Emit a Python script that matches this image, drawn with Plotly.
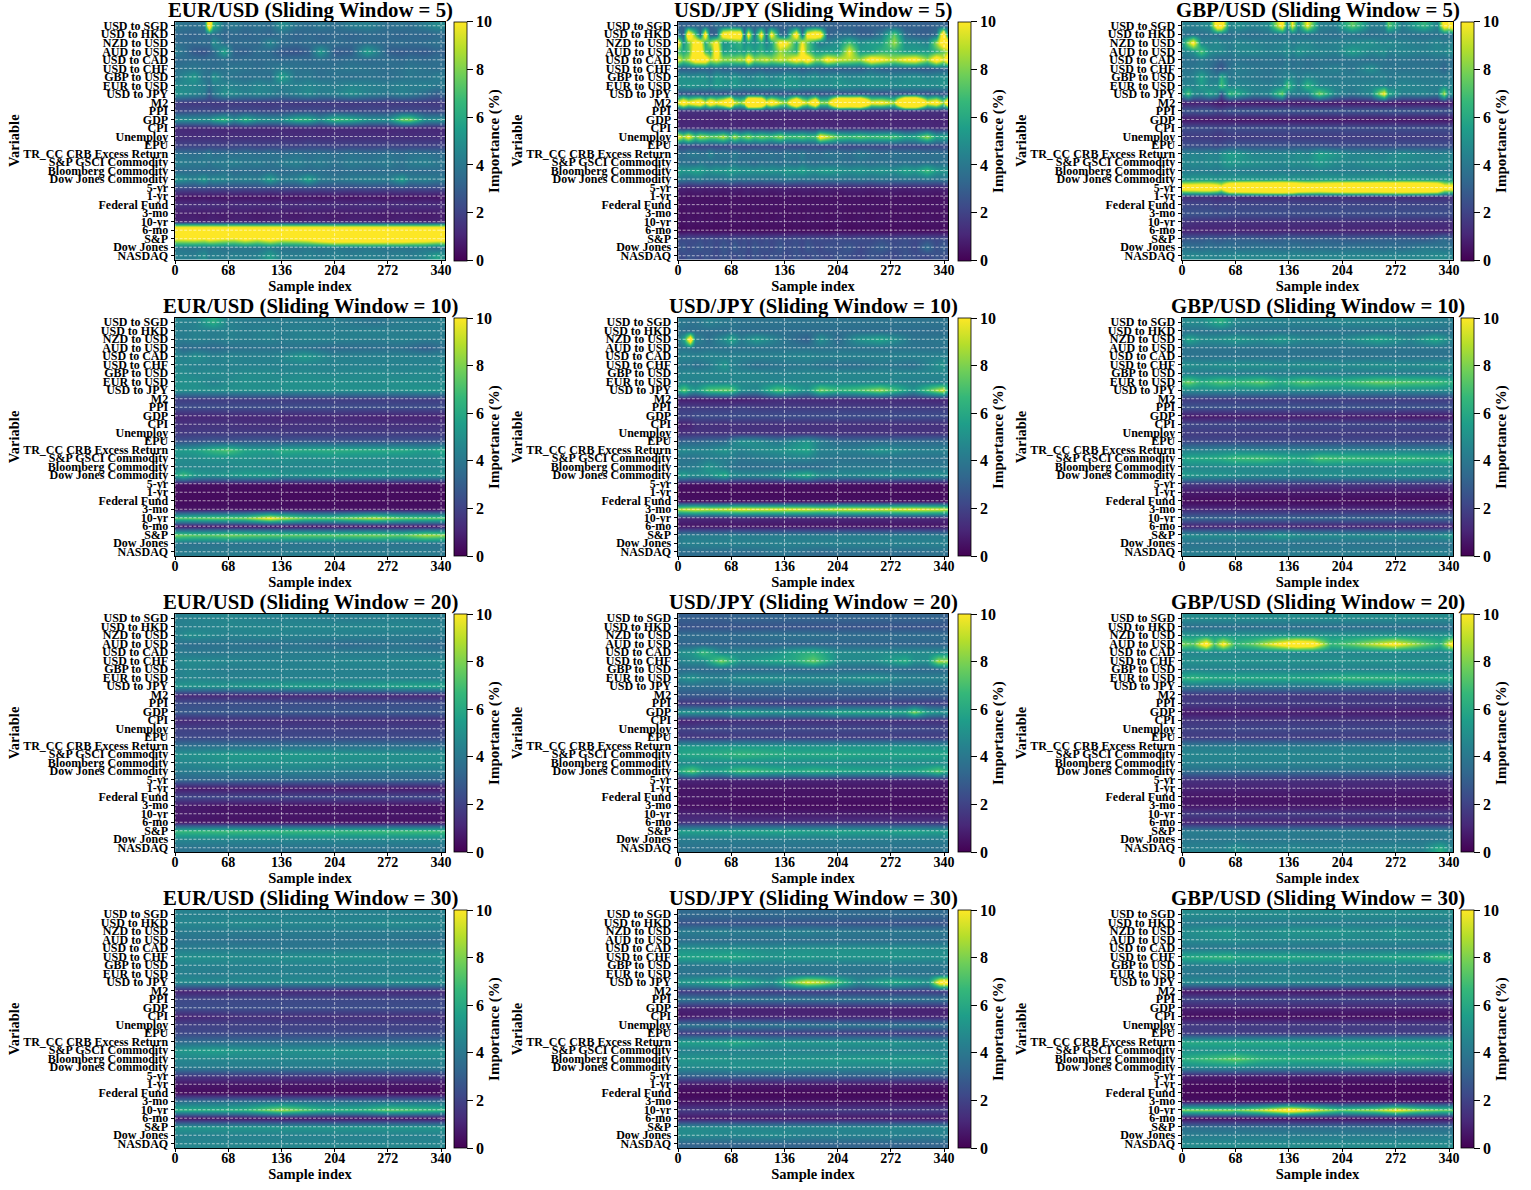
import numpy as np
import plotly.graph_objects as go

VARIABLES = ["USD to SGD","USD to HKD","NZD to USD","AUD to USD","USD to CAD","USD to CHF","GBP to USD","EUR to USD","USD to JPY","M2","PPI","GDP","CPI","Unemploy","EPU","TR_CC CRB Excess Return","S&P GSCI Commodity","Bloomberg Commodity","Dow Jones Commodity","5-yr","1-yr","Federal Fund","3-mo","10-yr","6-mo","S&P","Dow Jones","NASDAQ"]
PAIRS = ["EUR/USD","USD/JPY","GBP/USD"]
WINDOWS = [5,10,20,30]
X_TICKS = [0,68,136,204,272,340]
CB_TICKS = [0,2,4,6,8,10]

# Sample positions and importance readings (tenths of a percent); rows follow VARIABLES
X_E5 = [0,24,37,43,49,62,75,90,105,122,136,155,170,185,204,225,245,272,290,300,320,335,344]
Z_E5 = [
[40,36,40,130,64,38,40,36,38,36,50,38,36,40,36,42,44,36,38,36,42,48,46],
[34,32,34,34,36,32,34,32,34,32,36,32,34,32,34,32,34,34,32,34,32,34,34],
[36,34,36,34,50,36,34,36,34,46,36,34,36,34,36,34,36,34,36,34,36,38,36],
[44,28,26,30,34,58,32,30,36,34,28,26,30,54,28,30,56,30,28,30,28,32,30],
[34,36,34,36,34,36,34,36,34,36,34,36,34,36,34,36,34,36,34,36,34,36,34],
[38,40,38,36,36,38,40,38,36,38,42,38,38,36,38,40,38,36,38,40,38,36,38],
[40,54,38,38,52,40,38,36,38,36,58,38,40,36,38,36,38,36,38,40,38,42,40],
[48,46,44,36,42,46,44,42,46,44,42,44,46,44,42,46,44,42,44,42,44,40,42],
[52,46,42,30,40,50,48,44,46,44,40,44,48,42,44,50,44,40,44,42,36,30,34],
[18,17,17,18,17,17,17,18,17,17,18,17,17,18,17,17,18,17,17,18,17,17,18],
[22,22,23,22,21,22,23,22,22,21,22,22,23,22,22,21,22,22,23,22,22,21,22],
[50,50,50,50,58,66,50,64,52,50,50,64,64,50,68,64,52,50,78,80,50,50,50],
[12,11,12,11,12,11,11,12,11,11,12,11,12,11,11,12,11,11,12,11,12,11,12],
[14,13,14,13,14,13,14,13,14,13,14,13,14,13,14,13,14,13,14,13,14,13,14],
[20,21,20,21,21,20,21,22,20,21,21,20,22,21,20,21,20,21,20,21,20,21,20],
[38,36,38,42,36,38,36,38,36,38,36,38,36,38,36,38,36,38,36,38,38,36,36],
[44,40,42,38,42,42,44,40,42,38,42,44,40,42,38,42,40,42,38,42,44,40,40],
[34,36,34,36,34,38,34,36,34,36,34,36,34,36,34,36,34,36,34,36,34,36,34],
[52,44,54,44,48,46,42,44,42,56,42,44,58,42,40,42,44,42,56,42,44,40,42],
[24,23,24,23,24,23,24,23,24,23,24,23,24,23,24,23,24,23,24,23,24,23,24],
[6,5,6,5,6,5,6,5,6,5,6,5,6,5,6,5,6,5,6,5,6,5,6],
[14,13,14,13,14,13,13,14,13,13,14,13,14,13,14,13,14,13,14,13,14,13,14],
[8,8,7,8,8,7,8,8,7,8,8,7,8,8,7,8,8,7,8,8,7,8,8],
[10,10,9,10,10,9,10,10,9,10,10,9,10,10,9,10,10,9,10,10,9,10,10],
[165,165,165,165,165,165,165,165,165,165,165,165,165,165,165,165,165,165,165,165,165,165,165],
[100,105,100,108,105,100,98,108,100,112,102,105,110,125,135,135,135,135,135,130,125,120,120],
[40,38,40,38,40,38,38,40,38,42,38,38,40,38,40,38,40,38,38,38,40,34,40],
[44,42,50,42,44,42,44,42,44,56,44,42,44,42,44,42,44,42,44,42,46,58,50],
]

X_J5 = [0,6,13,22,28,34,41,49,57,66,72,79,84,89,97,106,112,119,130,138,151,158,165,175,181,190,204,218,232,246,260,276,290,303,318,330,338,344]
Z_J5 = [
[30,32,30,32,32,30,30,36,32,34,32,30,32,30,32,30,32,30,30,32,30,32,30,32,30,32,30,32,30,32,30,32,30,32,30,32,32,30],
[40,30,130,75,35,120,30,30,120,130,130,130,35,110,35,110,35,110,35,35,120,35,110,130,120,30,35,35,30,30,40,75,35,30,30,35,130,60],
[110,50,75,110,110,60,85,110,50,55,60,65,50,55,50,60,45,55,110,105,60,100,75,50,40,45,50,70,50,55,55,85,50,50,45,85,120,120],
[70,60,70,120,120,70,60,120,55,60,55,60,55,65,55,65,55,60,85,75,65,110,75,55,55,55,55,100,55,55,65,65,55,55,55,65,75,85],
[100,80,90,120,120,120,90,100,85,85,85,90,85,120,85,90,95,85,95,90,110,100,120,85,85,110,95,90,85,115,105,90,105,110,85,120,95,120],
[30,28,30,28,30,32,30,34,30,32,30,28,30,30,28,30,28,30,28,30,30,28,30,32,30,30,28,30,28,34,30,30,30,28,28,30,30,30],
[50,52,48,50,52,50,44,54,50,48,54,48,46,44,48,52,48,46,50,52,50,46,48,52,46,48,50,46,48,50,48,46,48,50,46,48,50,50],
[52,50,54,52,50,52,48,54,52,50,54,50,48,50,48,50,52,48,50,52,54,48,50,48,50,48,52,50,48,50,50,48,50,48,50,48,52,50],
[24,26,24,26,24,26,24,26,24,26,24,26,24,26,24,26,24,26,24,26,24,26,24,26,24,26,24,26,24,26,24,26,24,26,24,26,24,26],
[100,130,105,120,130,95,130,105,125,170,100,85,100,185,190,175,105,130,95,85,170,110,95,150,85,85,190,180,190,105,110,90,210,210,105,125,85,130],
[14,15,14,15,14,15,14,15,14,15,14,15,14,15,14,15,14,15,14,15,14,15,14,15,14,15,14,15,14,15,14,15,14,15,14,15,14,15],
[11,10,11,10,11,10,11,10,11,10,11,10,11,10,11,10,11,10,11,10,11,10,11,10,11,10,11,10,11,10,11,10,11,10,11,10,11,10],
[12,12,11,12,12,11,12,12,11,12,12,11,12,12,11,12,12,11,12,12,11,12,12,11,12,12,11,12,12,11,12,12,11,12,12,11,12,12],
[105,85,105,75,90,85,78,80,90,70,90,72,78,85,72,80,75,72,85,72,72,76,70,72,110,95,75,70,75,70,72,72,60,62,85,58,62,60],
[22,22,23,22,22,23,22,22,23,22,22,23,22,22,23,24,24,22,22,23,22,22,24,24,22,22,23,22,22,23,22,22,23,22,22,23,22,22],
[38,36,40,42,38,38,46,38,40,38,42,38,36,38,40,36,38,38,36,40,38,42,36,38,36,40,38,36,42,38,36,38,36,38,36,38,36,38],
[36,38,36,34,40,38,36,38,36,38,40,36,38,36,34,38,36,38,36,38,36,40,38,36,38,36,38,36,38,36,38,36,38,36,38,36,38,36],
[58,52,54,58,56,52,50,54,52,56,54,52,50,52,50,52,50,52,50,54,52,58,52,50,54,56,52,50,52,50,52,50,58,54,68,54,52,52],
[40,38,36,38,40,36,38,36,38,40,38,36,38,36,38,36,38,36,38,40,38,36,38,36,38,36,38,36,38,36,38,36,38,36,38,36,38,38],
[10,10,9,10,10,9,10,10,9,10,10,9,10,10,9,10,10,9,10,10,9,10,10,9,10,10,9,10,10,9,10,10,9,10,10,9,10,10],
[5,5,4,5,5,4,5,5,4,5,5,4,5,5,4,5,5,4,5,5,4,5,5,4,5,5,4,5,5,4,5,5,4,5,5,4,5,5],
[5,5,6,5,5,6,5,5,6,5,5,6,5,5,6,5,5,6,5,5,6,5,5,6,5,5,6,5,5,6,5,5,6,5,5,6,5,5],
[5,4,5,4,5,4,5,4,5,4,5,4,5,4,5,4,5,4,5,4,5,4,5,4,5,4,5,4,5,4,5,4,5,4,5,4,5,4],
[6,5,6,5,6,5,6,5,6,5,6,5,6,5,6,5,6,5,6,5,6,5,6,5,6,5,6,5,6,5,6,5,6,5,6,5,6,5],
[3,3,4,3,3,4,3,3,4,3,3,4,3,3,4,3,3,4,3,3,4,3,3,4,3,3,4,3,3,4,3,3,4,3,3,4,3,3],
[24,22,24,22,24,22,24,22,24,22,24,22,24,22,24,22,24,22,24,22,24,22,24,22,24,22,24,22,24,22,24,22,24,22,24,22,24,22],
[24,28,22,26,28,24,26,22,28,24,30,24,26,22,28,24,26,22,28,24,26,22,28,24,22,26,24,28,22,26,30,24,26,22,36,24,30,26],
[24,22,26,24,22,26,24,22,26,24,22,26,24,22,26,24,22,26,24,22,26,24,22,26,24,22,26,24,22,26,24,22,26,24,22,26,24,24],
]

X_G5 = [0,8,14,24,34,45,50,60,70,90,110,127,134,140,148,159,175,195,216,240,257,262,280,308,325,333,338,344]
Z_G5 = [
[44,44,42,46,48,120,120,46,50,44,48,110,46,100,48,100,44,42,75,42,44,75,42,65,44,115,105,120],
[38,36,38,36,38,36,34,36,38,36,38,36,38,36,38,36,38,36,38,36,38,36,38,36,38,36,38,36],
[50,85,110,46,44,48,44,42,46,44,42,44,46,42,44,46,42,44,46,50,44,48,44,42,46,42,44,44],
[44,46,50,72,50,46,48,42,46,48,44,46,50,46,52,48,46,44,56,46,50,44,46,44,46,46,50,48],
[36,38,36,40,38,34,32,36,38,36,38,36,40,36,38,36,38,36,38,36,38,36,38,36,38,36,38,36],
[40,38,40,42,38,30,26,38,42,40,38,40,42,38,40,38,40,44,38,50,38,40,38,40,38,32,38,38],
[40,42,44,58,44,40,62,40,42,40,38,42,44,46,40,46,42,40,42,40,44,40,42,40,42,40,42,40],
[44,46,44,54,46,48,70,44,46,44,42,46,72,56,44,66,46,44,42,46,44,42,46,44,42,46,44,46],
[50,72,50,46,58,50,28,68,62,44,46,78,42,44,44,44,80,46,40,48,105,62,44,46,42,88,50,50],
[8,9,8,10,9,6,5,7,6,7,6,7,6,7,6,7,6,7,6,7,6,7,6,7,6,7,6,8],
[26,28,26,28,28,24,24,28,28,28,28,28,28,28,28,28,28,28,28,28,28,28,28,28,28,26,28,26],
[6,6,6,6,6,7,7,6,6,6,6,6,6,6,6,6,6,6,6,6,6,7,6,6,6,6,6,6],
[24,24,24,24,24,22,22,24,24,24,24,24,24,24,24,24,24,24,24,24,24,24,24,24,24,24,24,24],
[18,18,18,18,18,16,16,18,18,18,18,18,18,18,18,18,18,18,18,18,18,18,18,18,18,18,18,18],
[24,24,24,24,24,22,24,26,26,26,26,26,26,26,26,26,26,24,24,24,24,24,24,24,24,24,24,24],
[44,44,46,44,46,44,50,56,54,46,46,46,48,46,50,46,58,52,46,46,44,46,50,46,44,46,46,44],
[48,46,48,46,48,46,50,54,52,50,48,46,48,50,48,50,54,48,46,50,48,50,48,46,48,48,46,46],
[42,42,42,42,42,40,42,44,42,42,42,42,40,42,42,42,44,42,42,42,44,42,44,42,42,42,40,42],
[54,52,54,54,54,52,54,52,54,54,52,54,54,52,54,52,54,54,52,54,54,52,54,54,52,54,52,54],
[125,130,130,135,135,125,110,170,175,185,195,200,195,195,170,165,160,170,180,175,185,185,190,180,170,120,120,120],
[14,14,14,14,14,12,12,13,13,13,13,13,13,13,13,13,13,13,13,13,13,13,13,13,13,13,13,13],
[22,22,22,22,22,20,22,22,22,22,22,22,22,22,22,22,22,22,22,22,22,22,22,22,22,22,22,22],
[26,26,26,26,26,24,26,24,24,24,24,24,24,24,24,24,24,24,24,24,24,24,24,24,24,24,24,24],
[16,16,14,14,14,14,14,14,14,14,14,14,14,14,14,14,14,14,14,14,14,14,14,14,14,14,14,14],
[10,10,10,10,10,10,10,10,10,10,10,10,10,10,10,10,10,10,10,10,10,10,10,10,10,10,10,12],
[26,28,28,28,30,28,28,30,30,30,28,30,32,30,30,30,30,30,28,30,30,30,30,28,32,36,32,30],
[38,38,36,36,38,36,38,38,36,38,38,36,36,38,38,36,38,36,38,38,36,38,36,42,40,38,40,38],
[46,46,48,46,46,44,46,46,48,46,46,46,46,46,46,46,46,46,46,46,46,46,46,46,48,48,46,46],
]

X_E10 = [0,10,25,48,68,90,122,136,165,200,255,290,320,344]
Z_E10 = [
[46,44,44,62,44,42,42,42,42,42,38,42,42,44],
[44,42,44,42,44,42,44,42,44,42,44,42,44,42],
[42,42,44,42,44,42,44,42,44,44,42,44,42,42],
[40,34,36,34,36,38,38,38,38,34,36,36,30,36],
[48,44,50,44,46,44,44,46,54,44,44,44,44,44],
[46,46,44,44,44,44,44,44,44,44,44,44,44,46],
[48,48,46,48,46,48,48,46,48,46,48,46,48,46],
[50,50,50,44,48,50,48,50,50,50,48,50,48,48],
[52,50,50,50,50,50,50,50,50,50,50,50,52,50],
[18,18,18,18,18,18,18,18,18,18,18,18,18,18],
[24,24,24,24,24,24,24,24,24,24,24,24,24,24],
[10,11,11,11,12,11,12,11,11,12,10,10,10,10],
[15,14,15,15,15,14,14,14,15,15,14,14,14,15],
[18,17,18,18,18,18,18,18,17,18,18,18,18,18],
[26,26,26,28,26,28,28,26,28,26,26,26,26,26],
[54,54,56,66,72,58,56,62,60,62,60,60,54,60],
[50,48,48,50,50,50,48,50,48,50,48,48,48,50],
[46,46,46,46,46,48,46,46,46,46,46,46,46,46],
[58,68,54,52,54,56,56,52,52,54,54,52,52,52],
[4,4,4,4,4,4,4,4,4,4,4,4,4,4],
[4,3,3,3,3,3,3,3,3,3,3,3,3,3],
[3,3,3,3,3,3,3,3,3,3,3,3,3,3],
[5,5,5,5,5,5,5,5,5,5,5,5,5,5],
[72,72,74,76,76,78,100,90,76,74,88,76,74,72],
[6,5,5,5,5,5,5,5,5,5,5,5,5,6],
[78,76,74,74,78,76,74,74,74,74,78,74,86,82],
[40,38,38,38,38,38,38,38,38,38,38,38,38,38],
[42,42,42,42,42,42,42,42,42,42,42,42,42,40],
]

X_J10 = [0,8,15,22,38,60,68,80,100,126,165,182,204,228,258,300,338,344]
Z_J10 = [
[40,40,38,38,44,40,40,38,38,38,38,38,38,38,38,38,38,38],
[38,36,36,36,36,36,38,36,36,36,36,36,36,36,36,36,36,36],
[40,60,125,46,36,50,60,42,54,42,30,50,34,50,58,38,40,40],
[38,38,38,36,38,38,38,38,38,38,38,38,38,38,38,38,38,38],
[44,46,44,44,46,44,44,44,44,44,46,44,44,44,44,44,44,44],
[42,38,40,36,40,52,44,40,36,38,40,38,36,36,40,36,52,40],
[44,46,46,46,46,46,46,46,46,44,46,46,46,46,46,46,46,46],
[46,46,44,44,46,46,46,46,46,46,46,46,46,46,46,44,44,46],
[62,76,58,52,72,76,74,50,46,72,50,78,66,70,84,50,95,66],
[8,8,8,8,8,8,8,8,10,12,12,12,12,12,12,12,10,10],
[18,18,18,18,18,18,18,20,18,18,18,18,18,18,18,18,18,18],
[22,22,22,24,24,24,24,24,24,24,24,24,24,24,24,24,24,24],
[9,9,10,14,14,13,14,14,14,14,14,14,14,14,14,14,14,14],
[14,14,14,15,15,15,15,15,15,15,15,15,15,15,15,15,15,15],
[30,32,32,32,34,34,42,50,48,40,52,42,34,34,34,34,34,34],
[46,48,46,46,46,52,48,44,48,50,58,44,44,44,52,44,44,44],
[40,38,38,38,42,42,42,38,40,42,44,40,38,38,38,38,38,38],
[40,40,42,42,52,42,38,36,36,36,34,36,40,40,40,40,40,40],
[54,56,50,50,50,62,50,48,48,50,64,50,48,48,50,48,50,48],
[4,4,4,4,4,4,4,4,4,4,4,4,4,4,4,4,4,4],
[3,3,3,3,3,3,3,3,3,3,3,3,3,3,3,3,3,3],
[5,4,4,4,4,4,4,4,4,4,4,4,4,4,4,4,4,4],
[88,92,94,96,92,94,96,98,96,96,96,92,94,96,94,98,94,88],
[12,11,11,11,11,11,11,12,11,11,11,11,11,11,11,11,11,11],
[6,6,6,6,6,6,6,6,6,6,6,6,6,6,6,6,6,6],
[40,42,42,42,42,42,44,42,42,42,42,42,42,42,42,42,42,42],
[42,44,44,44,44,44,44,44,44,44,44,44,44,44,44,44,44,44],
[36,36,36,36,36,36,36,36,36,40,36,34,36,36,36,36,38,36],
]

X_G10 = [0,8,25,50,68,100,125,155,175,205,248,290,322,344]
Z_G10 = [
[46,48,48,62,46,44,44,44,44,46,46,46,44,42],
[38,38,38,38,38,38,38,38,38,38,38,38,38,38],
[46,60,48,50,54,48,54,46,48,46,58,46,60,44],
[38,38,38,38,38,38,38,38,38,38,38,38,38,38],
[38,38,38,38,38,38,38,38,38,38,38,38,38,38],
[50,50,48,50,50,50,48,50,50,48,50,48,50,50],
[42,42,42,42,42,42,42,42,42,42,42,42,42,42],
[70,78,62,72,66,74,60,74,68,66,76,72,70,62],
[48,48,48,48,48,48,48,48,48,48,48,48,48,48],
[18,18,18,18,18,18,18,18,18,18,18,18,18,18],
[26,26,26,26,26,26,26,26,26,26,26,26,26,26],
[7,7,7,7,8,8,8,8,8,8,8,6,6,7],
[22,22,22,22,22,22,22,22,22,22,22,22,22,22],
[18,18,18,18,18,18,18,18,18,18,18,18,18,18],
[22,22,22,22,22,22,22,22,22,22,22,22,22,22],
[44,44,44,46,46,44,44,44,44,44,44,44,44,44],
[56,60,60,62,68,70,64,60,72,68,66,66,62,66],
[46,46,46,46,46,46,46,46,46,46,46,46,46,46],
[56,54,52,52,50,48,48,48,50,50,50,52,50,50],
[16,16,16,16,16,16,16,16,16,16,16,16,16,16],
[7,7,7,7,7,7,7,7,7,7,7,7,7,7],
[3,3,3,3,3,3,3,3,3,3,3,3,3,3],
[12,12,12,12,12,12,12,12,12,12,12,12,12,12],
[32,32,32,32,32,32,32,32,32,32,32,32,32,32],
[10,10,10,10,10,10,10,10,10,10,10,10,10,10],
[48,48,48,48,48,48,54,48,48,48,48,48,48,54],
[38,38,38,38,38,38,38,38,38,38,38,38,38,38],
[42,42,42,42,42,42,42,42,42,42,42,42,44,42],
]

X_E20 = [0,18,68,110,160,220,290,344]
Z_E20 = [
[42,44,46,44,44,42,44,42],
[44,44,46,46,46,46,46,44],
[44,50,44,46,44,44,42,42],
[38,36,38,36,38,34,38,34],
[42,40,40,42,42,42,42,40],
[46,48,46,44,44,46,46,48],
[44,46,42,44,44,44,44,44],
[44,46,44,44,44,44,44,44],
[52,52,52,54,56,54,58,58],
[12,12,12,12,12,12,12,12],
[24,24,24,24,24,24,24,24],
[28,28,28,28,28,28,28,28],
[12,12,14,14,14,14,14,14],
[20,20,20,20,20,20,20,20],
[22,22,22,22,22,22,22,22],
[38,38,38,38,38,38,38,38],
[50,50,54,54,54,52,50,50],
[46,46,50,50,50,48,48,48],
[42,42,44,44,44,42,42,42],
[32,32,32,32,32,32,32,32],
[7,7,7,7,7,7,7,7],
[22,22,22,22,22,22,22,22],
[7,7,5,5,5,5,5,5],
[7,7,6,6,6,6,6,6],
[6,6,5,5,5,5,5,5],
[66,66,68,66,66,66,68,68],
[46,46,46,46,46,46,46,46],
[38,38,38,38,38,38,38,38],
]

X_J20 = [0,18,32,55,80,118,148,172,205,250,290,302,318,332,344]
Z_J20 = [
[30,30,30,30,32,32,32,32,32,32,32,32,32,32,30],
[26,26,26,26,26,26,26,26,26,26,26,26,26,26,26],
[36,36,36,36,36,38,38,38,36,36,36,36,36,36,36],
[32,32,32,32,32,32,32,32,32,32,32,32,32,32,32],
[50,52,68,46,48,48,58,64,48,48,48,48,48,48,48],
[44,48,48,78,50,58,60,76,48,48,62,50,50,86,84],
[34,34,34,34,34,34,34,34,34,34,34,34,34,34,34],
[46,52,46,44,50,50,48,48,48,52,44,44,44,44,44],
[36,36,36,36,36,36,36,36,36,36,36,36,36,36,36],
[28,28,28,28,30,30,30,30,30,30,30,30,30,30,30],
[16,16,16,16,18,18,18,18,18,18,18,18,18,18,18],
[52,52,50,50,56,52,52,52,60,60,60,80,56,52,52],
[10,10,12,12,14,14,14,14,14,14,14,14,14,14,14],
[20,20,22,22,22,22,22,22,22,22,22,22,22,22,22],
[16,16,16,16,18,18,18,18,18,18,18,18,18,18,18],
[54,54,54,54,54,54,52,52,52,52,52,52,50,50,50],
[58,60,60,62,66,62,60,60,60,58,58,58,58,58,58],
[48,48,48,48,48,48,48,48,48,48,48,48,48,48,48],
[60,76,58,58,70,64,60,64,60,58,58,58,64,74,60],
[10,10,10,10,10,10,10,10,10,10,10,10,10,10,10],
[6,6,6,6,6,6,6,6,6,6,6,6,6,6,6],
[6,6,6,6,5,5,5,5,5,5,5,5,5,5,5],
[4,4,4,3,3,3,3,3,3,3,3,3,3,3,3],
[10,10,10,10,8,8,8,8,8,8,8,8,8,8,8],
[14,14,14,14,14,14,14,14,14,14,14,14,14,14,14],
[56,56,56,56,56,58,58,56,58,56,58,58,56,56,56],
[42,42,42,42,42,42,42,42,42,42,42,42,42,42,42],
[38,38,38,38,38,38,38,38,38,38,38,38,38,38,38],
]

X_G20 = [0,14,30,41,52,68,90,145,165,190,218,270,305,328,344]
Z_G20 = [
[48,48,48,48,48,48,48,48,48,48,48,48,48,48,48],
[36,36,36,36,36,36,36,36,36,36,36,36,36,36,36],
[52,52,52,52,52,52,52,52,52,52,52,52,52,52,52],
[80,74,115,72,105,66,76,125,118,66,76,105,78,64,110],
[46,46,46,46,46,46,46,46,46,46,46,46,46,46,46],
[50,50,50,50,50,50,50,50,50,50,50,50,50,50,50],
[44,44,44,44,44,44,44,44,44,44,44,44,44,44,44],
[62,66,62,60,60,60,60,60,60,64,66,64,60,60,60],
[40,40,40,40,40,40,40,40,40,40,40,40,40,40,40],
[16,16,16,16,16,16,16,16,16,16,16,16,16,16,16],
[18,18,18,18,18,18,18,18,18,18,18,18,18,18,18],
[7,7,7,7,7,8,8,8,8,8,8,8,8,8,8],
[16,16,16,16,16,16,16,16,16,16,16,16,16,16,16],
[20,20,20,20,20,22,22,22,22,22,22,22,22,22,22],
[18,18,18,18,18,18,18,18,18,18,18,18,18,18,18],
[42,42,42,42,42,42,42,42,42,42,42,42,42,42,42],
[46,46,46,46,46,46,46,46,46,46,46,46,46,46,46],
[44,44,44,44,44,44,44,44,44,44,44,44,44,44,44],
[36,36,36,36,36,36,36,36,36,36,36,36,36,36,36],
[14,14,14,14,14,14,14,14,14,14,14,14,14,14,14],
[10,10,10,10,10,10,10,10,10,10,10,10,10,10,10],
[6,6,6,6,6,6,6,6,6,6,6,6,6,6,6],
[6,6,6,6,6,6,6,6,6,6,6,6,6,6,6],
[18,18,18,18,18,18,18,18,18,18,18,18,18,18,18],
[10,10,10,10,10,10,10,10,10,10,10,10,10,10,10],
[42,42,42,42,42,42,42,42,42,42,42,42,42,42,42],
[40,40,40,40,40,40,40,40,40,40,40,40,40,40,40],
[44,44,44,44,44,50,44,46,44,44,44,46,44,62,44],
]

X_E30 = [0,50,90,136,190,240,272,344]
Z_E30 = [
[44,44,44,44,44,44,44,44],
[46,46,48,46,46,46,48,46],
[42,42,42,42,42,42,42,42],
[38,38,36,38,38,38,38,36],
[42,42,42,40,40,42,42,42],
[50,50,48,50,50,50,48,50],
[44,44,44,44,44,44,44,44],
[44,42,44,44,44,44,44,44],
[48,48,48,48,48,48,50,50],
[10,10,12,12,12,12,12,12],
[22,22,22,22,22,22,22,22],
[24,24,24,24,24,24,24,24],
[10,12,14,14,14,14,14,14],
[20,20,20,20,20,20,20,20],
[22,22,22,22,22,22,22,22],
[36,36,36,36,36,36,36,36],
[52,56,52,50,50,50,50,50],
[46,46,46,46,46,46,46,46],
[42,42,42,42,42,42,42,42],
[16,16,16,16,16,16,16,16],
[6,6,6,6,6,6,6,6],
[3,3,3,3,3,3,3,3],
[36,36,36,36,36,36,36,36],
[62,62,64,84,64,64,74,64],
[4,4,4,4,4,4,4,4],
[52,52,52,52,52,52,52,52],
[44,44,44,44,44,44,44,44],
[46,46,46,46,46,46,46,46],
]

X_J30 = [0,25,60,68,120,165,180,230,272,320,335,344]
Z_J30 = [
[34,34,34,34,34,34,34,34,34,34,34,34],
[26,26,26,26,26,26,26,26,26,26,26,26],
[42,42,44,42,42,44,42,40,40,40,40,40],
[36,36,36,36,36,36,36,36,36,36,36,36],
[50,50,50,50,48,50,50,50,50,48,48,48],
[58,58,60,60,52,54,52,52,52,50,50,50],
[40,40,40,40,40,40,40,40,40,40,40,40],
[38,38,38,38,38,38,38,38,38,38,38,38],
[54,56,64,66,50,98,92,48,62,52,115,115],
[18,18,18,18,18,18,18,18,18,18,18,18],
[40,38,38,38,38,38,38,38,38,38,38,38],
[10,10,10,10,10,10,10,10,10,10,10,10],
[6,8,10,10,10,10,10,10,10,10,10,10],
[38,38,38,38,38,38,38,38,38,38,38,38],
[18,18,18,18,18,18,18,18,18,18,18,18],
[56,56,58,62,52,52,52,52,52,48,48,48],
[44,44,44,44,44,44,44,44,44,44,44,44],
[52,52,52,50,50,52,52,54,54,54,50,50],
[48,48,48,50,50,48,48,46,46,46,46,46],
[30,30,30,30,30,30,30,30,30,30,30,30],
[7,7,7,7,7,7,7,7,7,7,7,7],
[2,2,2,2,2,2,2,2,2,2,2,2],
[5,5,5,5,5,5,5,5,5,5,5,5],
[18,18,18,18,18,18,18,18,18,18,18,18],
[6,6,6,6,6,6,6,6,6,6,6,6],
[48,48,48,48,46,46,46,46,46,46,46,46],
[48,48,46,46,48,44,44,44,44,42,44,42],
[32,32,32,32,32,32,32,32,32,32,32,32],
]

X_G30 = [0,60,68,100,136,200,245,272,300,330,344]
Z_G30 = [
[48,48,48,48,48,48,48,48,48,48,48],
[42,42,42,42,42,42,42,42,42,42,42],
[48,54,50,48,52,52,48,52,48,48,48],
[46,48,48,46,46,46,46,46,46,46,46],
[40,40,40,40,40,40,40,40,40,40,40],
[60,66,60,60,60,56,58,60,60,68,64],
[42,42,42,42,42,42,42,42,42,42,42],
[40,40,40,42,44,42,42,44,42,42,42],
[48,48,48,48,48,48,48,48,48,48,48],
[6,6,6,6,6,6,6,6,6,6,6],
[22,22,22,22,22,22,22,22,22,22,22],
[9,9,10,10,10,10,10,10,10,10,10],
[4,4,4,4,4,4,4,4,4,4,4],
[18,18,18,18,18,18,18,18,18,18,18],
[18,18,18,18,18,18,18,18,18,18,18],
[60,60,60,60,60,60,60,60,60,60,60],
[50,50,50,50,50,50,50,50,50,50,50],
[62,74,76,64,62,62,68,62,64,58,58],
[48,48,48,46,46,46,46,46,46,46,46],
[8,8,8,8,8,8,8,8,8,8,8],
[3,3,3,3,3,3,3,3,3,3,3],
[2,2,2,2,2,2,2,2,2,2,2],
[4,4,4,4,4,4,4,4,4,4,4],
[78,80,76,90,115,74,84,100,84,76,76],
[3,3,3,3,3,3,3,3,3,3,3],
[36,36,36,36,36,36,36,36,36,36,36],
[42,42,42,42,42,42,42,42,42,42,42],
[48,48,48,48,48,48,48,48,48,48,48],
]

X_GRID = [[X_E5,X_J5,X_G5],[X_E10,X_J10,X_G10],[X_E20,X_J20,X_G20],[X_E30,X_J30,X_G30]]
Z_GRID = [[Z_E5,Z_J5,Z_G5],[Z_E10,Z_J10,Z_G10],[Z_E20,Z_J20,Z_G20],[Z_E30,Z_J30,Z_G30]]

W, H = 1531, 1190
COL_PX = [(175,445,454),(678,948,958),(1182,1453,1461)]
ROW_PX = [(21.5,260),(318,556),(614,852),(910,1148)]
SERIF = "Liberation Serif"
def f(size, color="black"):
    return dict(family=SERIF, size=size, color=color, weight=700)

fig = go.Figure()
annots = []
layout = {}
y_grid = list(range(len(VARIABLES)))
n = 0
for r, (top, bot) in enumerate(ROW_PX):
    for c, (lft, rgt, cbx) in enumerate(COL_PX):
        n += 1
        sfx = "" if n == 1 else str(n)
        xa, ya = "x"+sfx, "y"+sfx
        fig.add_heatmap(x=X_GRID[r][c], y=y_grid, z=(np.array(Z_GRID[r][c])/10).tolist(),
            xaxis=xa, yaxis=ya, colorscale="Viridis", zmin=0, zmax=10, zsmooth="best",
            hoverinfo="skip",
            colorbar=dict(x=cbx/W, xanchor="left", y=1-top/H, yanchor="top", lenmode="pixels", len=bot-top,
                thicknessmode="pixels", thickness=12.5, xpad=0, ypad=0,
                outlinecolor="black", outlinewidth=0.8, tickmode="array", tickvals=CB_TICKS,
                ticks="outside", ticklen=6, tickwidth=0.8, tickcolor="black", tickfont=f(16),
                title=dict(text="Importance (%)", side="right", font=f(15))))
        gx, gy = [], []
        for t in X_TICKS:
            gx += [t, t, None]; gy += [-0.5, 27.5, None]
        for i in y_grid:
            gx += [0, 345, None]; gy += [i, i, None]
        fig.add_scatter(x=gx, y=gy, xaxis=xa, yaxis=ya, mode="lines", showlegend=False, hoverinfo="skip",
            line=dict(color="rgba(255,255,255,0.65)", width=0.9, dash="3px,1.6px"))
        layout["xaxis"+sfx] = dict(domain=[lft/W, rgt/W], anchor=ya, range=[0,345], tickmode="array", tickvals=X_TICKS,
            tickangle=0, ticks="outside", ticklen=3.5, tickwidth=0.8, tickcolor="black", tickfont=f(14),
            ticklabelstandoff=-6,
            showline=True, mirror=True, linecolor="black", linewidth=0.8, showgrid=False, zeroline=False,
            title=dict(text="Sample index", font=f(14.5), standoff=0))
        layout["yaxis"+sfx] = dict(domain=[1-bot/H, 1-top/H], anchor=xa, range=[27.5,-0.5], tickmode="array", tickvals=y_grid,
            ticktext=VARIABLES, ticks="outside", ticklen=3.5, tickwidth=0.8, tickcolor="black", tickfont=f(12),
            showline=True, mirror=True, linecolor="black", linewidth=0.8, showgrid=False, zeroline=False,
            title=dict(text="Variable", font=f(14.5), standoff=0))
        annots.append(dict(text=f"{PAIRS[c]} (Sliding Window = {WINDOWS[r]})", xref="paper", yref="paper",
            x=(lft+rgt)/2/W, y=1-top/H, xanchor="center", yanchor="bottom", yshift=-2, showarrow=False, font=f(20.8)))

fig.update_layout(width=W, height=H, margin=dict(l=0,r=0,t=0,b=0,autoexpand=False), paper_bgcolor="white", plot_bgcolor="white",
                  showlegend=False, annotations=annots, **layout)
fig.write_html("out.html", post_script="document.body.style.margin='0';", config={"displayModeBar": False})
